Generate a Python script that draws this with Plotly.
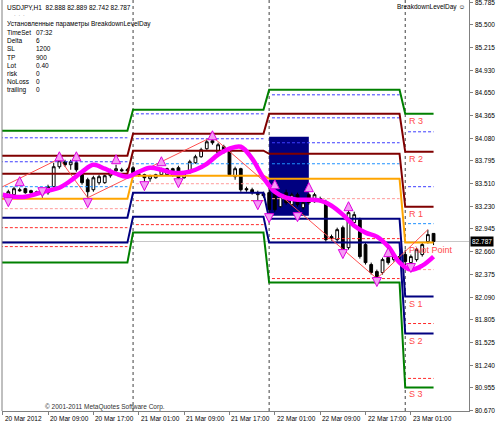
import plotly.graph_objects as go

# ---------------- data ----------------
BAR_HOURS = list(range(2, 78))  # hours since 20 Mar 2012 00:00
OPEN = [83.348, 83.373, 83.435, 83.448, 83.423, 83.41, 83.373, 83.398, 83.473, 83.723, 83.785, 83.748,
        83.773, 83.623, 83.56, 83.435, 83.523, 83.523, 83.61, 83.673, 83.685, 83.673,
        83.71, 83.635, 83.623, 83.573, 83.585, 83.623, 83.623, 83.698, 83.71, 83.585, 83.648, 83.773,
        83.848, 83.948, 84.048, 83.898, 83.973, 83.91, 83.598, 83.698, 83.448, 83.435, 83.373, 83.385,
        83.398, 83.41, 83.223, 83.398, 83.248, 83.373, 83.21, 83.373, 83.285, 83.31, 83.273, 82.848,
        82.81, 82.96, 82.71, 83.023, 83.06, 82.748, 82.498, 82.41, 82.398, 82.585, 82.56, 82.598,
        82.623, 82.523, 82.56, 82.623, 82.785, 82.888]
HIGH = [83.435, 83.473, 83.46, 83.46, 83.435, 83.423, 83.423, 83.498, 83.773, 83.823, 83.81, 83.81,
        83.823, 83.66, 83.585, 83.61, 83.623, 83.623, 83.698, 83.748, 83.71, 83.71,
        83.735, 83.648, 83.635, 83.623, 83.635, 83.71, 83.71, 83.71, 83.735, 83.66, 83.81, 83.873,
        83.96, 84.06, 84.098, 84.023, 83.998, 83.935, 83.723, 83.71, 83.473, 83.46, 83.423, 83.41,
        83.473, 83.435, 83.373, 83.435, 83.398, 83.398, 83.31, 83.398, 83.398, 83.348, 83.31, 82.873,
        82.96, 82.985, 83.185, 83.16, 83.085, 82.773, 82.523, 82.435, 82.585, 82.61, 82.648, 82.635,
        82.685, 82.623, 82.71, 82.773, 82.935, 82.889]
LOW = [83.323, 83.348, 83.41, 83.385, 83.373, 83.373, 83.335, 83.373, 83.46, 83.698, 83.723, 83.685,
       83.66, 83.498, 83.335, 83.41, 83.498, 83.51, 83.585, 83.66, 83.66, 83.66,
       83.623, 83.598, 83.535, 83.535, 83.573, 83.61, 83.61, 83.598, 83.56, 83.573, 83.635, 83.76,
       83.835, 83.935, 83.998, 83.873, 83.885, 83.61, 83.56, 83.41, 83.41, 83.373, 83.273, 83.335,
       83.148, 83.16, 83.21, 83.248, 83.223, 83.223, 83.185, 83.248, 83.273, 83.273, 82.785, 82.798,
       82.785, 82.66, 82.685, 82.998, 82.573, 82.498, 82.373, 82.323, 82.373, 82.498, 82.535, 82.535,
       82.46, 82.498, 82.535, 82.598, 82.76, 82.742]
CLOSE = [83.41, 83.448, 83.423, 83.398, 83.398, 83.385, 83.41, 83.473, 83.723, 83.798, 83.748, 83.785,
         83.685, 83.523, 83.41, 83.585, 83.598, 83.61, 83.673, 83.698, 83.673, 83.685,
         83.648, 83.623, 83.585, 83.61, 83.623, 83.685, 83.698, 83.623, 83.585, 83.648, 83.785, 83.848,
         83.935, 84.035, 84.023, 83.998, 83.91, 83.623, 83.698, 83.435, 83.435, 83.398, 83.385, 83.36,
         83.185, 83.185, 83.348, 83.273, 83.373, 83.248, 83.273, 83.273, 83.373, 83.323, 82.81, 82.823,
         82.935, 82.685, 83.148, 83.123, 82.598, 82.523, 82.398, 82.348, 82.56, 82.523, 82.623, 82.585,
         82.535, 82.598, 82.685, 82.748, 82.873, 82.787]

MA_HOURS = [1, 3, 5, 7, 9, 11, 13, 15, 17, 19, 21, 23, 25, 27, 29, 31, 33, 35, 37, 39,
            41, 43, 45, 47, 49, 51, 53, 55, 57, 59, 61, 63, 65, 67, 69, 71, 73, 75, 77]
MA = [83.373, 83.348, 83.348, 83.385, 83.423, 83.46, 83.548, 83.66, 83.748, 83.698,
      83.635, 83.598, 83.66, 83.71, 83.685, 83.648, 83.648, 83.685, 83.76, 83.873,
      83.948, 83.973, 83.823, 83.585, 83.41, 83.335, 83.31, 83.31, 83.298, 83.235,
      83.123, 82.985, 82.898, 82.848, 82.723, 82.523, 82.435, 82.485, 82.598]

ZZ_HOURS = [1, 11, 16, 38, 67, 76]
ZZ = [83.473, 83.823, 83.335, 84.098, 82.323, 82.935]

UP_HOURS = [4, 11, 14, 21, 29, 38, 49, 55, 62, 69]
UP_PRICE = [83.598, 83.91, 83.91, 83.873, 83.848, 84.173, 83.56, 83.523, 83.285, 82.71]
DN_HOURS = [2, 8, 16, 26, 32, 46, 48, 53, 61, 67, 73]
DN_PRICE = [83.223, 83.348, 83.21, 83.423, 83.46, 83.185, 83.023, 83.035, 82.573, 82.223, 82.398]

DAY_START = [0, 24, 48, 72]
DAY_END = [23, 47, 71, 77]
R3 = [84.173, 84.435, 84.685, 84.385]
R2 = [83.86, 84.135, 84.385, 83.91]
R1 = [83.635, 83.923, 83.885, 83.222]
PP = [83.323, 83.61, 83.573, 82.773]
S1 = [83.085, 83.398, 83.073, 82.098]
S2 = [82.773, 83.098, 82.773, 81.635]
S3 = [82.523, 82.898, 82.273, 80.96]

BLUE_A = [84.085, 84.385, 84.623, 84.16]
BLUE_B = [83.785, 84.073, 84.335, 83.473]
BLUE_C = [None, None, 84.023, None]
LBLUE = [83.473, 83.76, 83.76, 83.01]
PINK_A = [83.198, 83.51, 83.323, 82.435]
RED_B = [82.96, 83.298, 82.823, 81.76]
RED_C = [82.723, 82.998, 82.323, 81.073]

BOX = [48, 55, 83.11, 84.098]
BID = 82.787

TICK_HOURS = [1, 9, 17, 25, 33, 41, 49, 57, 65, 73]
TICK_LABELS = ["20 Mar 2012", "20 Mar 09:00", "20 Mar 17:00", "21 Mar 01:00", "21 Mar 09:00",
               "21 Mar 17:00", "22 Mar 01:00", "22 Mar 09:00", "22 Mar 17:00", "23 Mar 01:00"]
Y_TICKS = [85.785, 85.5, 85.215, 84.93, 84.65, 84.365, 84.08, 83.795, 83.51, 83.23,
           82.945, 82.66, 82.375, 82.09, 81.805, 81.525, 81.24, 80.955, 80.67]

PARAM_NAMES = ["TimeSet", "Delta", "SL", "TP", "Lot", "risk", "NoLoss", "trailing"]
PARAM_VALUES = ["07:32", "6", "1200", "900", "0.40", "0", "0", "0"]
LEVEL_NAMES = ["R 3", "R 2", "R 1", "Pivot Point", "S 1", "S 2", "S 3"]

FONT = "Liberation Sans, DejaVu Sans, sans-serif"
FS = 6.5

# ---------------- figure ----------------
fig = go.Figure()


def stepped(levels):
    xs, ys = [], []
    for s, e, v in zip(DAY_START, DAY_END, levels):
        xs += [s, e]
        ys += [v, v]
    return xs, ys


def dashed(levels):
    xs, ys = [], []
    for s, e, v in zip(DAY_START, DAY_END, levels):
        if v is None:
            continue
        xs += [s + 0.5, e, None]
        ys += [v, v, None]
    return xs, ys


for arr, col in [(BLUE_A, "#3C3CFF"), (BLUE_B, "#3C3CFF"), (BLUE_C, "#3C3CFF"),
                 (LBLUE, "#1E90FF"), (PINK_A, "#FF9A9A"), (RED_B, "#FF2A2A"), (RED_C, "#FF2A2A")]:
    xs, ys = dashed(arr)
    fig.add_trace(go.Scatter(x=xs, y=ys, mode="lines", line=dict(color=col, width=1, dash="3px,2px"),
                             hoverinfo="skip"))

for arr, col in [(R3, "#008000"), (R2, "#800000"), (R1, "#800000"), (PP, "#FFA500"),
                 (S1, "#000080"), (S2, "#000080"), (S3, "#008000")]:
    xs, ys = stepped(arr)
    fig.add_trace(go.Scatter(x=xs, y=ys, mode="lines", line=dict(color=col, width=2), hoverinfo="skip"))

fig.add_trace(go.Scatter(x=ZZ_HOURS, y=ZZ, mode="lines", line=dict(color="#FF5050", width=1)))

fig.add_trace(go.Candlestick(
    x=BAR_HOURS, open=OPEN, high=HIGH, low=LOW, close=CLOSE,
    increasing=dict(fillcolor="white", line=dict(color="black", width=1)),
    decreasing=dict(fillcolor="black", line=dict(color="black", width=1)),
    whiskerwidth=0))

fig.add_trace(go.Scatter(x=MA_HOURS, y=MA, mode="lines", line=dict(color="#FF00FF", width=4.5, shape="spline")))

fig.add_trace(go.Scatter(x=UP_HOURS, y=UP_PRICE, mode="markers",
                         marker=dict(symbol="arrow-up", size=9, color="#F49CF4",
                                     line=dict(color="#E000E0", width=1))))
fig.add_trace(go.Scatter(x=DN_HOURS, y=DN_PRICE, mode="markers",
                         marker=dict(symbol="arrow-down", size=9, color="#F49CF4",
                                     line=dict(color="#E000E0", width=1))))

shapes = [
    dict(type="rect", xref="x", yref="y", x0=BOX[0], x1=BOX[1], y0=BOX[2], y1=BOX[3],
         fillcolor="#000080", line=dict(width=0), layer="below"),
    dict(type="line", xref="paper", yref="y", x0=0, x1=1, y0=BID, y1=BID,
         line=dict(color="#C8C8C8", width=1), layer="below"),
    dict(type="line", xref="paper", yref="paper", x0=0, x1=0, y0=0, y1=1,
         line=dict(color="#808080", width=1)),
]
for s in DAY_START[1:]:
    shapes.append(dict(type="line", xref="x", yref="paper", x0=s, x1=s, y0=0, y1=1,
                       line=dict(color="#404040", width=1, dash="dot"), layer="below"))

ann = []
txt = dict(family=FONT, size=FS, color="black")
ann.append(dict(xref="paper", yref="paper", x=0, y=1, xshift=3, yshift=-7, xanchor="left", yanchor="middle",
                text="USDJPY,H1  82.888 82.889 82.742 82.787", showarrow=False, font=txt))
ann.append(dict(xref="paper", yref="paper", x=0, y=1, xshift=10, yshift=-15, xanchor="left", yanchor="middle",
                text="·  ·  ·", showarrow=False, font=dict(family=FONT, size=5, color="#606060")))
ann.append(dict(xref="paper", yref="paper", x=0, y=1, xshift=3, yshift=-24, xanchor="left", yanchor="middle",
                text="Установленные параметры BreakdownLevelDay", showarrow=False, font=txt))
for i, (n, v) in enumerate(zip(PARAM_NAMES, PARAM_VALUES)):
    py = 32.5 + i * 8.2
    ann.append(dict(xref="paper", yref="paper", x=0, y=1, xshift=3, yshift=-py, xanchor="left",
                    yanchor="middle", text=n, showarrow=False, font=txt))
    ann.append(dict(xref="paper", yref="paper", x=0, y=1, xshift=32, yshift=-py, xanchor="left",
                    yanchor="middle", text=v, showarrow=False, font=txt))
ann.append(dict(xref="paper", yref="paper", x=1, y=1, xshift=-2, yshift=-7, xanchor="right", yanchor="middle",
                text="BreakdownLevelDay ☺", showarrow=False, font=txt))
ann.append(dict(xref="paper", yref="paper", x=0, y=0, xshift=41, yshift=4, xanchor="left", yanchor="middle",
                text="© 2001-2011 MetaQuotes Software Corp.", showarrow=False,
                font=dict(family=FONT, size=FS, color="#303030")))
for name, arr in zip(LEVEL_NAMES, [R3, R2, R1, PP, S1, S2, S3]):
    ann.append(dict(xref="x", yref="y", x=DAY_START[3] + 0.4, y=arr[3], xanchor="left", yanchor="top",
                    text=name, showarrow=False, font=dict(family=FONT, size=9, color="#FF4A4A")))
# x tick labels (left aligned after tick, as in the terminal)
for h, lab in zip(TICK_HOURS, TICK_LABELS):
    ann.append(dict(xref="x", yref="paper", x=h, y=0, xshift=0, yshift=-7, xanchor="left", yanchor="middle",
                    text=lab, showarrow=False, font=txt))
# y tick labels
for v in Y_TICKS:
    ann.append(dict(xref="paper", yref="y", x=1, y=v, xshift=4, xanchor="left", yanchor="middle",
                    text="%.3f" % v, showarrow=False, font=txt))
ann.append(dict(xref="paper", yref="y", x=1, y=BID, xshift=1, xanchor="left", yanchor="middle",
                text="82.787", showarrow=False, bgcolor="black", borderpad=1,
                font=dict(family=FONT, size=FS, color="white")))

fig.update_layout(
    width=497, height=426, margin=dict(l=2, r=28, t=0, b=15, autoexpand=False),
    paper_bgcolor="white", plot_bgcolor="white", showlegend=False, hovermode=False,
    shapes=shapes, annotations=ann,
    xaxis=dict(range=[0.882, 83.25], showgrid=False, zeroline=False, showline=True, linecolor="#808080",
               tickvals=TICK_HOURS, ticks="outside", ticklen=3, tickcolor="#808080",
               showticklabels=False, automargin=False, rangeslider=dict(visible=False)),
    yaxis=dict(side="right", range=[80.665, 85.81], showgrid=False, zeroline=False, showline=True,
               linecolor="#808080", tickvals=Y_TICKS, showticklabels=False, automargin=False,
               ticks="outside", ticklen=3, tickcolor="#808080"),
)

fig.write_html("out.html", config={"displayModeBar": False},
               post_script="document.body.style.margin='0';")
